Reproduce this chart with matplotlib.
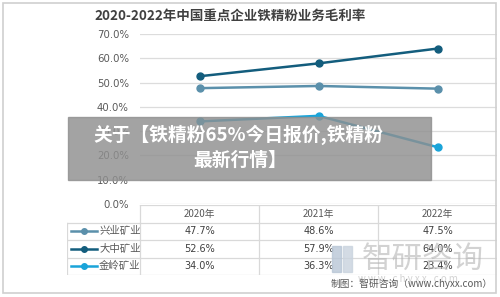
import numpy as np
import matplotlib
matplotlib.use("Agg")
import matplotlib.pyplot as plt
from matplotlib.patches import Rectangle

plt.rcParams['font.family'] = ['Noto Sans CJK SC', 'DejaVu Sans']

# %%
# Data
years = ["2020年", "2021年", "2022年"]
companies = ["兴业矿业", "大中矿业", "金岭矿业"]
xingye = [47.7, 48.6, 47.5]
dazhong = [52.6, 57.9, 64.0]
jinling = [34.0, 36.3, 23.4]
series = [xingye, dazhong, jinling]
colors = ["#5b90ab", "#135d7d", "#1aa4d9"]
yticks = [0, 10, 20, 30, 40, 50, 60, 70]

title = "2020-2022年中国重点企业铁精粉业务毛利率"
overlay1 = "关于【铁精粉65%今日报价,铁精粉"
overlay2 = "最新行情】"

W, H = 500, 297
fig = plt.figure(figsize=(W / 100, H / 100), dpi=100)

def fx(px):
    return px / W

def fy(py):
    return 1 - py / H

# outer border
fig.patches.append(Rectangle((fx(3), fy(293)), fx(493), 290 / H, transform=fig.transFigure,
                             fill=False, edgecolor="#cfcfcf", lw=1.2))

# %%
# Line chart
x = np.arange(len(years))
ax = fig.add_axes([fx(140), fy(204), fx(357), (204 - 34) / H])
for vals, c in zip(series, colors):
    ax.plot(x, np.array(vals) / 100, color=c, lw=1.8, marker='o', ms=5, zorder=3)
ax.set_xlim(-0.5, 2.5)
ax.set_ylim(0, 0.70)
ax.set_yticks(np.array(yticks) / 100)
ax.set_yticklabels([f"{v:.1f}%" for v in yticks], fontsize=7.3, color="#595959",
                   family=['DejaVu Sans'])
ax.tick_params(axis='y', length=0, pad=8)
ax.set_xticks([])
ax.grid(axis='y', color="#dcdcdc", lw=0.9)
for s in ax.spines.values():
    s.set_visible(False)

fig.text(fx(230), fy(16), title, ha='center', va='center', fontsize=9.7,
         fontweight='bold', color="#404040")

# %%
# Data table below the chart
tab = fig.add_axes([fx(67), fy(275), fx(430), 70 / H])
left = -0.5 - 73 / 119
tab.set_xlim(left, 2.5)
tab.set_ylim(4, 0)
tab.axis('off')
lc = "#d9d9d9"
tab.plot([-0.5, 2.5], [0, 0], color=lc, lw=0.9)
for r in range(1, 5):
    tab.plot([left, 2.5], [r, r], color=lc, lw=0.9)
tab.plot([left, left], [1, 4], color=lc, lw=0.9)
for c in [-0.5, 0.5, 1.5, 2.5]:
    tab.plot([c, c], [0, 4], color=lc, lw=0.9)
for i, yr in enumerate(years):
    tab.text(i, 0.5, yr, ha='center', va='center', fontsize=7, color="#595959")
for r, (name, vals, c) in enumerate(zip(companies, series, colors), start=1):
    tab.plot([left + 0.03, left + 0.25], [r + 0.5, r + 0.5], color=c, lw=1.8)
    tab.plot([left + 0.14], [r + 0.5], 'o', color=c, ms=4)
    tab.text(left + 0.27, r + 0.5, name, ha='left', va='center', fontsize=7.5,
             color="#595959")
    for i, v in enumerate(vals):
        tab.text(i, r + 0.5, f"{v:.1f}%", ha='center', va='center', fontsize=7,
                 color="#404040", family=['DejaVu Sans'])

# %%
# Watermark and source note
fig.patches.append(Rectangle((fx(332), fy(272)), fx(9), 26 / H, transform=fig.transFigure,
                             color="#b8c6d6", alpha=0.8, zorder=5))
fig.patches.append(Rectangle((fx(343), fy(272)), fx(9), 26 / H, transform=fig.transFigure,
                             color="#c9d3de", alpha=0.8, zorder=5))
fig.text(fx(423), fy(259), "智研咨询", ha='center', va='center', fontsize=22,
         color="#b4b4b4", alpha=0.6, zorder=5)
fig.text(fx(408), fy(279), "w w w . c h y x x . c o m", ha='center', va='center',
         fontsize=7, color="#c0c0c0", alpha=0.7, zorder=5)
fig.text(fx(493), fy(284), "制图：智研咨询（www.chyxx.com）", ha='right', va='center',
         fontsize=7, color="#595959", zorder=6)

# %%
# Gray overlay banner with headline
fig.patches.append(Rectangle((fx(68), fy(180)), fx(363), 63 / H, transform=fig.transFigure,
                             color="#8f8f8f", alpha=0.82, zorder=10))
fig.text(fx(238), fy(135), overlay1, ha='center', va='center', fontsize=13.5,
         fontweight='bold', color="white", zorder=11)
fig.text(fx(240), fy(160), overlay2, ha='center', va='center', fontsize=13.5,
         fontweight='bold', color="white", zorder=11)

fig.savefig("out.png", dpi=100)
